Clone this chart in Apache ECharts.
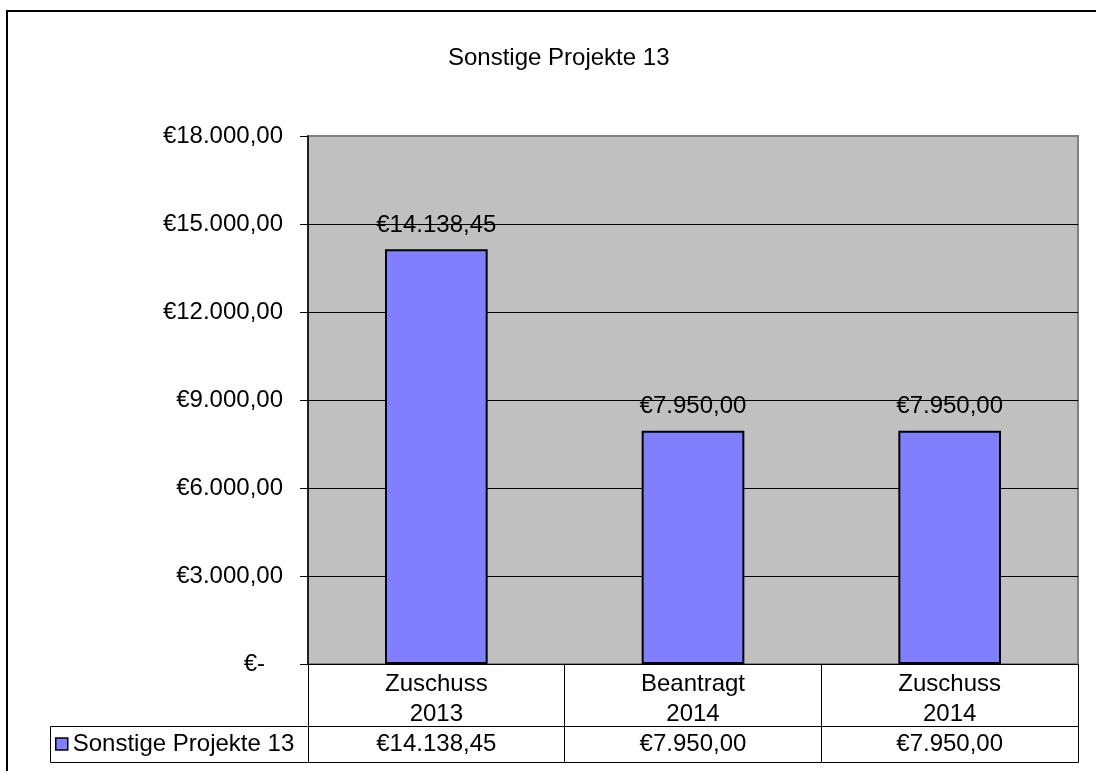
<!DOCTYPE html>
<html>
<head>
<meta charset="utf-8">
<title>Sonstige Projekte 13</title>
<script src="https://cdn.jsdelivr.net/npm/echarts@6/dist/echarts.min.js"></script>
<style>
  html, body { margin: 0; padding: 0; background: #fff; }
  #main { width: 1096px; height: 771px; }
</style>
</head>
<body>
<div id="main"></div>
<script type="text/javascript">
var seriesName = 'Sonstige Projekte 13';
var categories = ['Zuschuss\n2013', 'Beantragt\n2014', 'Zuschuss\n2014'];
var values = [14138.45, 7950.00, 7950.00];
var yMin = 0, yMax = 18000, yStep = 3000;

// €12.345,67 style
function euro(v) {
    var parts = v.toFixed(2).split('.');
    var whole = parts[0].replace(/\B(?=(\d{3})+(?!\d))/g, '.');
    return '€' + whole + ',' + parts[1];
}

var font = 'Liberation Sans, Arial, sans-serif';
var myChart = echarts.init(document.getElementById('main'));

var option = {
    backgroundColor: '#fff',
    animation: false,
    title: {
        text: seriesName,
        left: 448, top: 46, padding: 0,
        textStyle: { fontFamily: font, fontSize: 24, fontWeight: 'normal', color: '#000' }
    },
    legend: {
        data: [seriesName],
        left: 55, top: 732, padding: 0,
        icon: 'rect', itemWidth: 12, itemHeight: 12,
        itemStyle: { borderColor: '#000', borderWidth: 1.5 },
        textStyle: { fontFamily: font, fontSize: 24, color: '#000', padding: [0, 0, 0, 0] }
    },
    grid: {
        left: 308, right: 18, top: 136, bottom: 107,
        show: true, backgroundColor: '#C0C0C0', borderColor: '#808080', borderWidth: 2
    },
    xAxis: [{
        type: 'category',
        data: categories,
        axisLine: { show: true, lineStyle: { color: '#000', width: 1 } },
        axisTick: { show: true, inside: false, alignWithLabel: false, interval: 0, length: 98, lineStyle: { color: '#000', width: 1 } },
        axisLabel: { fontFamily: font, fontSize: 24, color: '#000', margin: 5, lineHeight: 30 }
    }, {
        type: 'category',
        position: 'bottom',
        data: categories,
        axisLine: { show: false },
        axisTick: { show: false },
        axisLabel: {
            fontFamily: font, fontSize: 24, color: '#000', margin: 68,
            formatter: function (v, i) { return euro(values[i]); }
        }
    }],
    yAxis: {
        type: 'value',
        min: yMin, max: yMax, interval: yStep,
        axisLine: { show: true, lineStyle: { color: '#000', width: 1.5 } },
        axisTick: { show: true, length: 8, lineStyle: { color: '#000' } },
        axisLabel: {
            fontFamily: font, fontSize: 24, color: '#000', margin: 25,
            formatter: function (v) { return v === 0 ? '{z|€-}' : euro(v); },
            rich: { z: { fontFamily: font, fontSize: 24, color: '#000', padding: [0, 18, 0, 0] } }
        },
        splitLine: {
            show: true,
            lineStyle: { color: ['#000', '#000', '#000', '#000', '#000', '#000', '#808080'], width: 1 }
        }
    },
    graphic: [{
        type: 'rect', silent: true,
        shape: { x: 7, y: 11, width: 1200, height: 900 },
        style: { fill: 'none', stroke: '#000', lineWidth: 2 }
    }, {
        type: 'rect', silent: true,
        shape: { x: 50.5, y: 726.5, width: 1028, height: 36 },
        style: { fill: 'none', stroke: '#000', lineWidth: 1 }
    }],
    series: [{
        name: seriesName,
        type: 'bar',
        data: values,
        barWidth: '40%',
        itemStyle: { color: '#8080FF', borderColor: '#000', borderWidth: 2 },
        label: {
            show: true, position: 'top', distance: 12,
            fontFamily: font, fontSize: 24, color: '#000',
            formatter: function (p) { return euro(p.value); }
        }
    }]
};
myChart.setOption(option);
</script>
</body>
</html>
